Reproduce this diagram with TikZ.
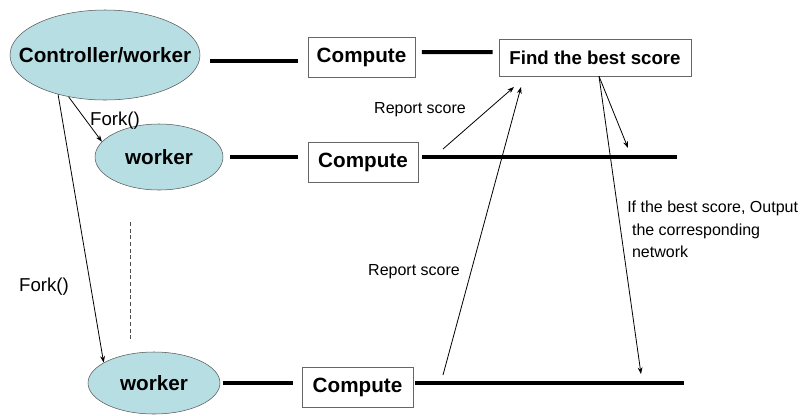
\documentclass[tikz,border=0pt]{standalone}
\usepackage{fontspec}
\setmainfont{Liberation Sans}
\usetikzlibrary{arrows.meta, positioning, shapes.geometric}
\definecolor{workerfill}{RGB}{183,222,226}

\begin{document}
\begin{tikzpicture}[
  x=0.75pt, y=-0.75pt,
  proc/.style={draw=black!65, fill=workerfill, ellipse, inner sep=0pt},
  proctext/.style={font=\fontsize{15.5}{18}\selectfont\bfseries},
  box/.style={draw=black!60, rectangle, fill=white, inner sep=0pt, font=\fontsize{15.5}{18}\selectfont\bfseries},
  bar/.style={line width=3pt},
  arrow/.style={-{Stealth[length=5pt, width=3.6pt]}, line width=0.6pt},
  lbl/.style={font=\fontsize{12}{16.8}\selectfont},
  forklbl/.style={font=\fontsize{14}{16}\selectfont}
]
  \useasboundingbox (0,0) rectangle (804,415);

  % processes
  \node[proc, minimum width=142.5pt, minimum height=67.5pt,
        label={[proctext]center:Controller/worker}] (ctrl) at (105,55) {};
  \node[proc, minimum width=96pt, minimum height=49.5pt,
        label={[proctext]center:worker}] (w1) at (159,157) {};
  \node[proc, minimum width=99pt, minimum height=46.5pt,
        label={[proctext]center:worker}] (w2) at (154,383) {};

  % compute boxes
  \node[box, minimum width=80.25pt, minimum height=30pt] (c1) at (361.5,57) {Compute};
  \node[box, minimum width=82.5pt, minimum height=30pt] (c2) at (363,162) {Compute};
  \node[box, minimum width=83.25pt, minimum height=30pt] (c3) at (357.5,387) {Compute};
  \node[box, minimum width=144pt, minimum height=27.75pt, font=\fontsize{14}{16}\selectfont\bfseries] (find) at (595,57.5) {Find the best score};

  % time lines
  \coordinate (e2) at (677,157);
  \coordinate (e3) at (684,383);
  \draw[bar, shorten <=7.5pt, shorten >=7.5pt] ([yshift=-4.5pt]ctrl.east) -- ([yshift=-3pt]c1.west);
  \draw[bar, shorten <=5pt, shorten >=4.5pt] ([yshift=3.75pt]c1.east) -- ([yshift=4pt]find.west);
  \draw[bar, shorten <=5pt, shorten >=7pt] (w1.east) -- (w1.east -| c2.west);
  \draw[bar, shorten <=3pt] (c2.east |- e2) -- (e2);
  \draw[bar, shorten <=2.25pt, shorten >=6.75pt] (w2.east) -- (w2.east -| c3.west);
  \draw[bar, shorten <=1.5pt] (c3.east |- e3) -- (e3);

  % fork
  \draw[arrow] (ctrl.229) -- (w1.165);
  \draw[arrow] (ctrl.220) -- (w2.158);
  \node[forklbl] (f1) at (115,121) {Fork()};
  \node[forklbl] (f2) at (44,287) {Fork()};
  \draw[dashed, black!70, line width=0.6pt, dash pattern=on 3pt off 2pt] (130,222) -- (130,340);

  % report and output
  \coordinate (rep1) at (443,149);
  \coordinate (rep2) at (443,375);
  \coordinate (hit1) at (514,87);
  \coordinate (hit2) at (521,87);
  \coordinate (out1) at (628,148);
  \coordinate (out2) at (641,374);
  \draw[arrow] (rep1) -- (hit1);
  \draw[arrow] (rep2) -- (hit2);
  \draw[arrow] ([xshift=3pt]find.south) -- (out1);
  \draw[arrow] ([xshift=3pt]find.south) -- (out2);
  \node[lbl] (rs1) at (420,110) {Report score};
  \node[lbl] (rs2) at (414,272) {Report score};
  \node[lbl, anchor=north west, align=left, inner sep=0pt] (note) at (627,201)
    {If the best score, Output\\\hspace{0.3em}the corresponding\\\hspace{0.3em}network};
\end{tikzpicture}
\end{document}
